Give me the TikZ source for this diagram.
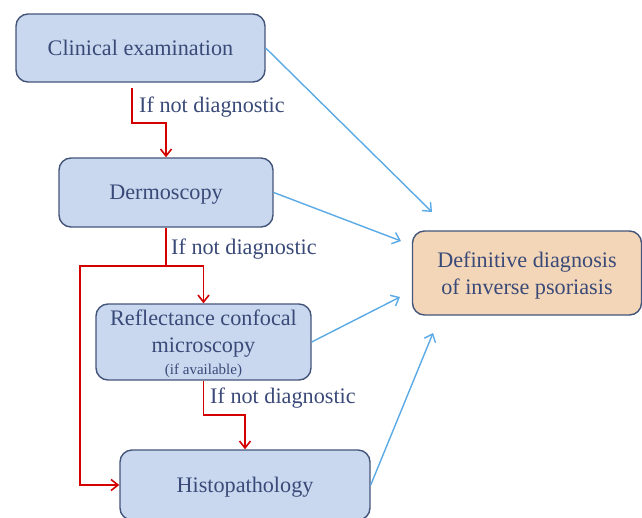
\documentclass[tikz,border=0pt]{standalone}
\usepackage{fontspec}
\setmainfont{Liberation Serif}
\usetikzlibrary{arrows.meta}
\definecolor{boxblue}{HTML}{C9D8EF}
\definecolor{boxorange}{HTML}{F3D6B8}
\definecolor{boxline}{HTML}{44557A}
\definecolor{txtblue}{HTML}{3A4A78}
\definecolor{flowred}{HTML}{D40000}
\definecolor{skyline}{HTML}{5AAAE6}

\begin{document}
\begin{tikzpicture}
  [x=1pt,y=-1pt,
   every node/.style={text=txtblue,font=\fontsize{22.2}{27.5}\selectfont},
   stepbox/.style={draw=boxline,line width=1.4pt,fill=boxblue,rounded corners=12pt,align=center,text depth=0pt},
   endbox/.style={stepbox,fill=boxorange},
   redarrow/.style={draw=flowred,line width=1.8pt,-{Straight Barb[length=7pt,width=11pt,line width=1.6pt]}},
   redpath/.style={draw=flowred,line width=1.8pt},
   bluearrow/.style={draw=skyline,line width=1.4pt,-{Straight Barb[length=7pt,width=12pt,line width=1.4pt]}}]
  \useasboundingbox (0,0) rectangle (642,517);
  \node[stepbox,minimum width=249pt,minimum height=68pt] (clin) at (140.5,48) {Clinical examination};
  \node[stepbox,minimum width=214pt,minimum height=69pt] (derm) at (166,192.5) {Dermoscopy};
  \node[stepbox,minimum width=215pt,minimum height=76pt,inner sep=2pt] (rcm) at (203.5,342)
    {Reflectance confocal\\microscopy\\[-6pt]{\fontsize{15}{16}\selectfont(if available)}};
  \node[stepbox,minimum width=250pt,minimum height=70pt] (histo) at (245,485) {Histopathology};
  \node[endbox,minimum width=229pt,minimum height=84pt] (diag) at (527,273)
    {Definitive diagnosis\\of inverse psoriasis};
  % If not diagnostic labels
  \node[anchor=west,inner sep=0pt] (lbl1) at (139,107) {If not diagnostic};
  \node[anchor=west,inner sep=0pt] (lbl2) at (171,249) {If not diagnostic};
  \node[anchor=west,inner sep=0pt] (lbl3) at (210,398) {If not diagnostic};
  % free ends of the blue arrows
  \coordinate (t1) at (432,212);
  \coordinate (t2) at (401,241);
  \coordinate (t3) at (400,297);
  \coordinate (t4) at (433,333);

  \draw[redarrow] ([xshift=-8.5pt,yshift=-5pt]clin.south) -- ++(0,35) -| (derm.north);
  \draw[redpath] (derm.south) -- ++(0,38) coordinate (split);
  \draw[redarrow] (split) -| (rcm.north);
  \draw[redarrow] (split) -- ++(-86,0) |- (histo.west);
  \draw[redarrow] (rcm.south) -- ++(0,34) -| (histo.north);

  \foreach \from/\to in {clin/t1,derm/t2,rcm/t3,histo/t4}
    \draw[bluearrow] (\from.east) -- (\to);
\end{tikzpicture}
\end{document}
